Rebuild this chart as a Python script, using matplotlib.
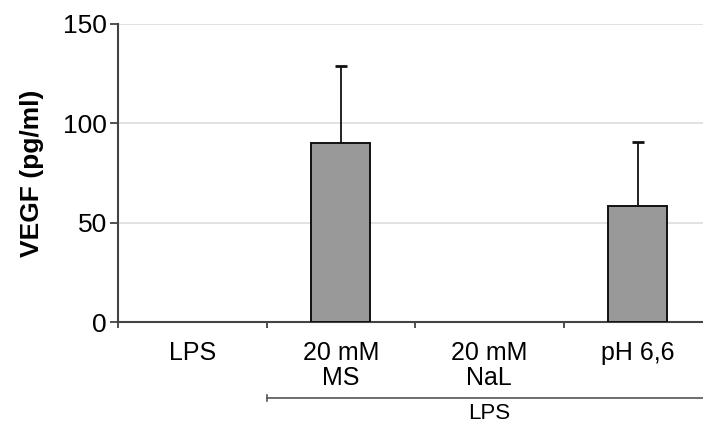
import matplotlib
matplotlib.use("Agg")
import matplotlib.pyplot as plt
from matplotlib.transforms import blended_transform_factory
import numpy as np

plt.rcParams['font.family'] = ['Liberation Sans', 'DejaVu Sans']

categories = ["LPS", "20 mM\nMS", "20 mM\nNaL", "pH 6,6"]
vegf_mean = [0, 90, 0, 58.5]
vegf_sd = [0, 39, 0, 32]
y_ticks = [0, 50, 100, 150]
group_label = "LPS"

fig = plt.figure(figsize=(7.03, 4.23), dpi=100)
ax = fig.add_axes([118 / 703, 101 / 423, 594 / 703, 298 / 423])

x = np.arange(len(categories))
heights = np.array(vegf_mean)
has_bar = heights > 0
ax.bar(x[has_bar], heights[has_bar], width=0.4, color="#999999",
       edgecolor="#111111", linewidth=1.4, zorder=3)
# upper-only error bars
_, caps, _ = ax.errorbar(x[has_bar], heights[has_bar],
                         yerr=[np.zeros(has_bar.sum()), np.array(vegf_sd)[has_bar]],
                         fmt="none", ecolor="#111111", elinewidth=1.3, capsize=4,
                         capthick=2, zorder=4)
caps[0].set_visible(False)

ax.set_xlim(-0.5, len(categories) - 0.5)
ax.set_ylim(0, 150)
ax.set_yticks(y_ticks)
ax.set_yticklabels([str(v) for v in y_ticks], fontsize=19)
ax.yaxis.grid(True, color="#dddddd", linewidth=1.2, zorder=0)
ax.set_axisbelow(True)

ax.set_xticks(x)
ax.set_xticklabels(categories, fontsize=18, linespacing=1.05)
ax.tick_params(axis="x", which="major", length=0, pad=14)
ax.set_xticks(np.arange(-0.5, len(categories), 1.0), minor=True)
ax.tick_params(axis="x", which="minor", length=4, width=1.2, direction="out",
               color="#333333")
ax.tick_params(axis="y", length=6, width=1.2, color="#333333", pad=2)

for side in ("top", "right"):
    ax.spines[side].set_visible(False)
for side in ("left", "bottom"):
    ax.spines[side].set_color("#444444")
    ax.spines[side].set_linewidth(1.5)

ax.set_ylabel("VEGF (pg/ml)", fontsize=19, fontweight="bold", labelpad=14)

# bracket grouping the LPS-treated conditions
trans = blended_transform_factory(ax.transData, ax.transAxes)
y_line = -0.255
ax.plot([0.5, len(categories) - 0.5], [y_line, y_line], transform=trans,
        color="#555555", linewidth=1.2, clip_on=False)
ax.plot([0.5, 0.5], [y_line - 0.01, y_line + 0.01], transform=trans,
        color="#555555", linewidth=1.2, clip_on=False)
ax.text((0.5 + len(categories) - 0.5) / 2, y_line - 0.018, group_label,
        transform=trans, ha="center", va="top", fontsize=16)

fig.savefig("out.png", dpi=100)
